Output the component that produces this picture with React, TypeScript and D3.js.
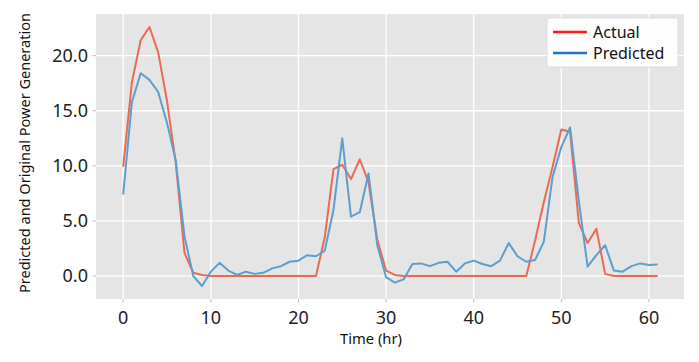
import * as d3 from 'd3';

const hours = d3.range(0, 62);

// values
const actual = [
  9.9, 17.6, 21.4, 22.6, 20.3, 15.9, 10.3, 2.1, 0.3, 0.1,
  0, 0, 0, 0, 0, 0, 0, 0, 0, 0,
  0, 0, 0, 3.5, 9.7, 10.1, 8.8, 10.6, 8.5, 3.3,
  0.5, 0.1, 0, 0, 0, 0, 0, 0, 0, 0,
  0, 0, 0, 0, 0, 0, 0, 3.2, 6.7, 9.9,
  13.3, 13.1, 4.8, 3.0, 4.3, 0.2, 0, 0, 0, 0,
  0, 0,
];

const predicted = [
  7.4, 15.8, 18.4, 17.8, 16.7, 13.9, 10.5, 3.6, 0.0, -0.9,
  0.4, 1.2, 0.5, 0.1, 0.4, 0.2, 0.3, 0.7, 0.9, 1.3,
  1.4, 1.9, 1.8, 2.3, 6.0, 12.5, 5.4, 5.8, 9.3, 2.8,
  -0.1, -0.6, -0.3, 1.1, 1.15, 0.9, 1.2, 1.3, 0.4, 1.15,
  1.4, 1.1, 0.9, 1.4, 3.0, 1.8, 1.3, 1.45, 3.1, 9.0,
  11.7, 13.5, 6.8, 0.85, 1.9, 2.8, 0.5, 0.4, 0.9, 1.15,
  1.0, 1.05,
];

const xTicks = [0, 10, 20, 30, 40, 50, 60];
const yTicks = [0, 5, 10, 15, 20];

const seriesNames = ['Actual', 'Predicted'];
const lineColors = ['#ea6a55', '#5c9fcf'];
const legendColors = ['#ff1a1a', '#1f77c8'];

const W = 699;
const H = 362;
const plot = { left: 96, right: 684, top: 14, bottom: 299 };
const FONT = '"Noto Sans", "DejaVu Sans", sans-serif';

export default function App() {
  const x = d3.scaleLinear().domain([-3.1, 64.0]).range([plot.left, plot.right]);
  const y = d3.scaleLinear().domain([-2.08, 23.78]).range([plot.bottom, plot.top]);

  const line = d3
    .line<number>()
    .x((_, i) => x(hours[i]))
    .y((d) => y(d));

  const series = [actual, predicted];

  return (
    <div style={{ position: 'absolute', left: 0, top: 0 }}>
      <svg width={W} height={H} viewBox={`0 0 ${W} ${H}`} style={{ display: 'block', background: '#fff' }}>
        <rect
          x={plot.left}
          y={plot.top}
          width={plot.right - plot.left}
          height={plot.bottom - plot.top}
          fill="#e5e5e5"
        />
        {/* grid */}
        {xTicks.map((t) => (
          <line key={'gx' + t} x1={x(t)} x2={x(t)} y1={plot.top} y2={plot.bottom} stroke="#fff" strokeWidth={1.3} />
        ))}
        {yTicks.map((t) => (
          <line key={'gy' + t} x1={plot.left} x2={plot.right} y1={y(t)} y2={y(t)} stroke="#fff" strokeWidth={1.3} />
        ))}

        {/* series */}
        {series.map((s, i) => (
          <path key={seriesNames[i]} d={line(s) || ''} fill="none" stroke={lineColors[i]} strokeWidth={2} strokeLinejoin="round" />
        ))}

        {/* x axis */}
        {xTicks.map((t) => (
          <g key={'tx' + t}>
            <line x1={x(t)} x2={x(t)} y1={plot.bottom} y2={plot.bottom + 3.5} stroke="#bbb" />
            <text x={x(t)} y={plot.bottom + 25} textAnchor="middle" fontSize={18} fontFamily={FONT} fill="#222">
              {t}
            </text>
          </g>
        ))}
        <text
          x={371}
          y={344}
          textAnchor="middle"
          fontSize={15}
          fontFamily={FONT}
          fill="#111"
          textLength={62}
          lengthAdjust="spacingAndGlyphs"
        >
          Time (hr)
        </text>

        {/* y axis */}
        {yTicks.map((t) => (
          <g key={'ty' + t}>
            <line x1={plot.left - 3.5} x2={plot.left} y1={y(t)} y2={y(t)} stroke="#bbb" />
            <text x={plot.left - 8} y={y(t)} dy="0.35em" textAnchor="end" fontSize={18} fontFamily={FONT} fill="#222">
              {d3.format('.1f')(t)}
            </text>
          </g>
        ))}
        <text
          transform={`translate(25, 153) rotate(-90)`}
          textAnchor="middle"
          dy="0.35em"
          fontSize={15}
          fontFamily={FONT}
          fill="#111"
          textLength={280}
          lengthAdjust="spacingAndGlyphs"
        >
          Predicted and Original Power Generation
        </text>

        {/* legend */}
        <rect x={547} y={18} width={131} height={49} fill="#fff" fillOpacity={0.9} stroke="#dcdcdc" rx={2} />
        {seriesNames.map((name, i) => (
          <g key={'lg' + name} transform={`translate(553, ${32 + i * 21})`}>
            <line x1={0} x2={34} y1={0} y2={0} stroke={legendColors[i]} strokeWidth={2.5} />
            <text x={40} y={0} dy="0.35em" fontSize={16} fontFamily={FONT} fill="#111">
              {name}
            </text>
          </g>
        ))}
      </svg>
    </div>
  );
}
